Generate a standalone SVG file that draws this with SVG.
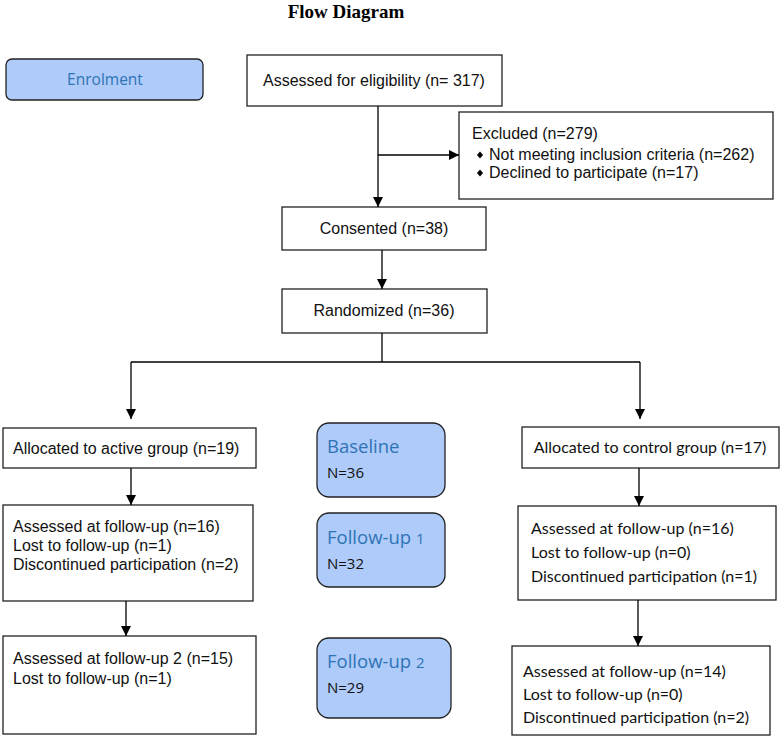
<svg xmlns="http://www.w3.org/2000/svg" width="780" height="736" viewBox="0 0 780 736">
<defs>
<marker id="ah" viewBox="0 0 10 10" refX="10" refY="5" markerWidth="10" markerHeight="10" markerUnits="userSpaceOnUse" orient="auto">
<path d="M0,0 L10,5 L0,10 Z" fill="#000"/>
</marker>
<style>
.box{fill:#fff;stroke:#222;stroke-width:1.3}
.phase{fill:#aecbfa;stroke:#222;stroke-width:1.3}
.t{font-family:"Liberation Sans",Arial,sans-serif;font-size:16px;fill:#111}
.c{font-family:Lato,"Open Sans",sans-serif;font-size:16px;fill:#111}
.ph{font-family:"Open Sans",Lato,sans-serif;font-size:18.5px;fill:#2e74b5}
.n{font-family:"Open Sans",Lato,sans-serif;font-size:15px;fill:#111}
.ln{fill:none;stroke:#000;stroke-width:1.3}
.bul{fill:#000}
</style>
</defs>
<rect width="780" height="736" fill="#fff"/>
<text x="346" y="18" text-anchor="middle" font-family="Liberation Serif,serif" font-weight="bold" font-size="19" fill="#000">Flow Diagram</text>

<g id="enrolment">
<rect class="phase" x="6" y="59" width="197" height="41" rx="6"/>
<text x="105" y="85" text-anchor="middle" font-family="Open Sans,Lato,sans-serif" font-size="15.5" fill="#2e74b5">Enrolment</text>
</g>
<g id="assessed">
<rect class="box" x="247" y="55" width="255" height="51"/>
<text class="t" x="374" y="86" text-anchor="middle">Assessed for eligibility (n= 317)</text>
</g>
<g id="excluded">
<rect class="box" x="459" y="112" width="314" height="87"/>
<text class="t" x="472" y="139">Excluded (n=279)</text>
<path class="bul" d="M480,151.5 l3,3.5 l-3,3.5 l-3,-3.5 Z"/>
<text class="t" x="489" y="160">Not meeting inclusion criteria (n=262)</text>
<path class="bul" d="M480,169.5 l3,3.5 l-3,3.5 l-3,-3.5 Z"/>
<text class="t" x="489" y="178">Declined to participate (n=17)</text>
</g>
<g id="consented">
<rect class="box" x="282" y="207" width="204" height="43"/>
<text class="t" x="384" y="234" text-anchor="middle">Consented (n=38)</text>
</g>
<g id="randomized">
<rect class="box" x="282" y="289" width="205" height="44"/>
<text class="t" x="384" y="316" text-anchor="middle">Randomized (n=36)</text>
</g>
<g id="active">
<rect class="box" x="3" y="428" width="253" height="40"/>
<text class="t" x="13" y="454">Allocated to active group (n=19)</text>
</g>
<g id="active-fu1">
<rect class="box" x="3" y="505" width="250" height="96"/>
<text class="t" x="13" y="532">Assessed at follow-up (n=16)</text>
<text class="t" x="13" y="551">Lost to follow-up (n=1)</text>
<text class="t" x="13" y="570">Discontinued participation (n=2)</text>
</g>
<g id="active-fu2">
<rect class="box" x="3" y="636" width="253" height="98"/>
<text class="t" x="13" y="664">Assessed at follow-up 2 (n=15)</text>
<text class="t" x="13" y="684">Lost to follow-up (n=1)</text>
</g>
<g id="baseline">
<rect class="phase" x="317" y="423" width="128" height="74" rx="12"/>
<text class="ph" x="327" y="453">Baseline</text>
<text class="n" x="327" y="478">N=36</text>
</g>
<g id="followup1">
<rect class="phase" x="317" y="513" width="128" height="74" rx="12"/>
<text class="ph" x="327" y="544">Follow-up <tspan font-size="15">1</tspan></text>
<text class="n" x="327" y="569">N=32</text>
</g>
<g id="followup2">
<rect class="phase" x="317" y="638" width="134" height="80" rx="12"/>
<text class="ph" x="327" y="668">Follow-up <tspan font-size="15">2</tspan></text>
<text class="n" x="327" y="693">N=29</text>
</g>
<g id="control">
<rect class="box" x="522" y="427" width="257" height="41"/>
<text class="c" x="650" y="453" text-anchor="middle">Allocated to control group (n=17)</text>
</g>
<g id="control-fu1">
<rect class="box" x="518" y="506" width="258" height="94"/>
<text class="c" x="531" y="534">Assessed at follow-up (n=16)</text>
<text class="c" x="531" y="558">Lost to follow-up (n=0)</text>
<text class="c" x="531" y="582">Discontinued participation (n=1)</text>
</g>
<g id="control-fu2">
<rect class="box" x="512" y="646" width="258" height="89"/>
<text class="c" x="523" y="677">Assessed at follow-up (n=14)</text>
<text class="c" x="523" y="700">Lost to follow-up (n=0)</text>
<text class="c" x="523" y="723">Discontinued participation (n=2)</text>
</g>

<g id="connectors">
<path class="ln" d="M378,106 V207" marker-end="url(#ah)"/>
<path class="ln" d="M378,155 H459" marker-end="url(#ah)"/>
<path class="ln" d="M382,250 V289" marker-end="url(#ah)"/>
<path class="ln" d="M382,333 V362"/>
<path class="ln" d="M131,362 H640"/>
<path class="ln" d="M131,362 V419" marker-end="url(#ah)"/>
<path class="ln" d="M640,362 V419" marker-end="url(#ah)"/>
<path class="ln" d="M131,468 V505" marker-end="url(#ah)"/>
<path class="ln" d="M126,601 V636" marker-end="url(#ah)"/>
<path class="ln" d="M639,468 V506" marker-end="url(#ah)"/>
<path class="ln" d="M638,600 V646" marker-end="url(#ah)"/>
</g>
</svg>
